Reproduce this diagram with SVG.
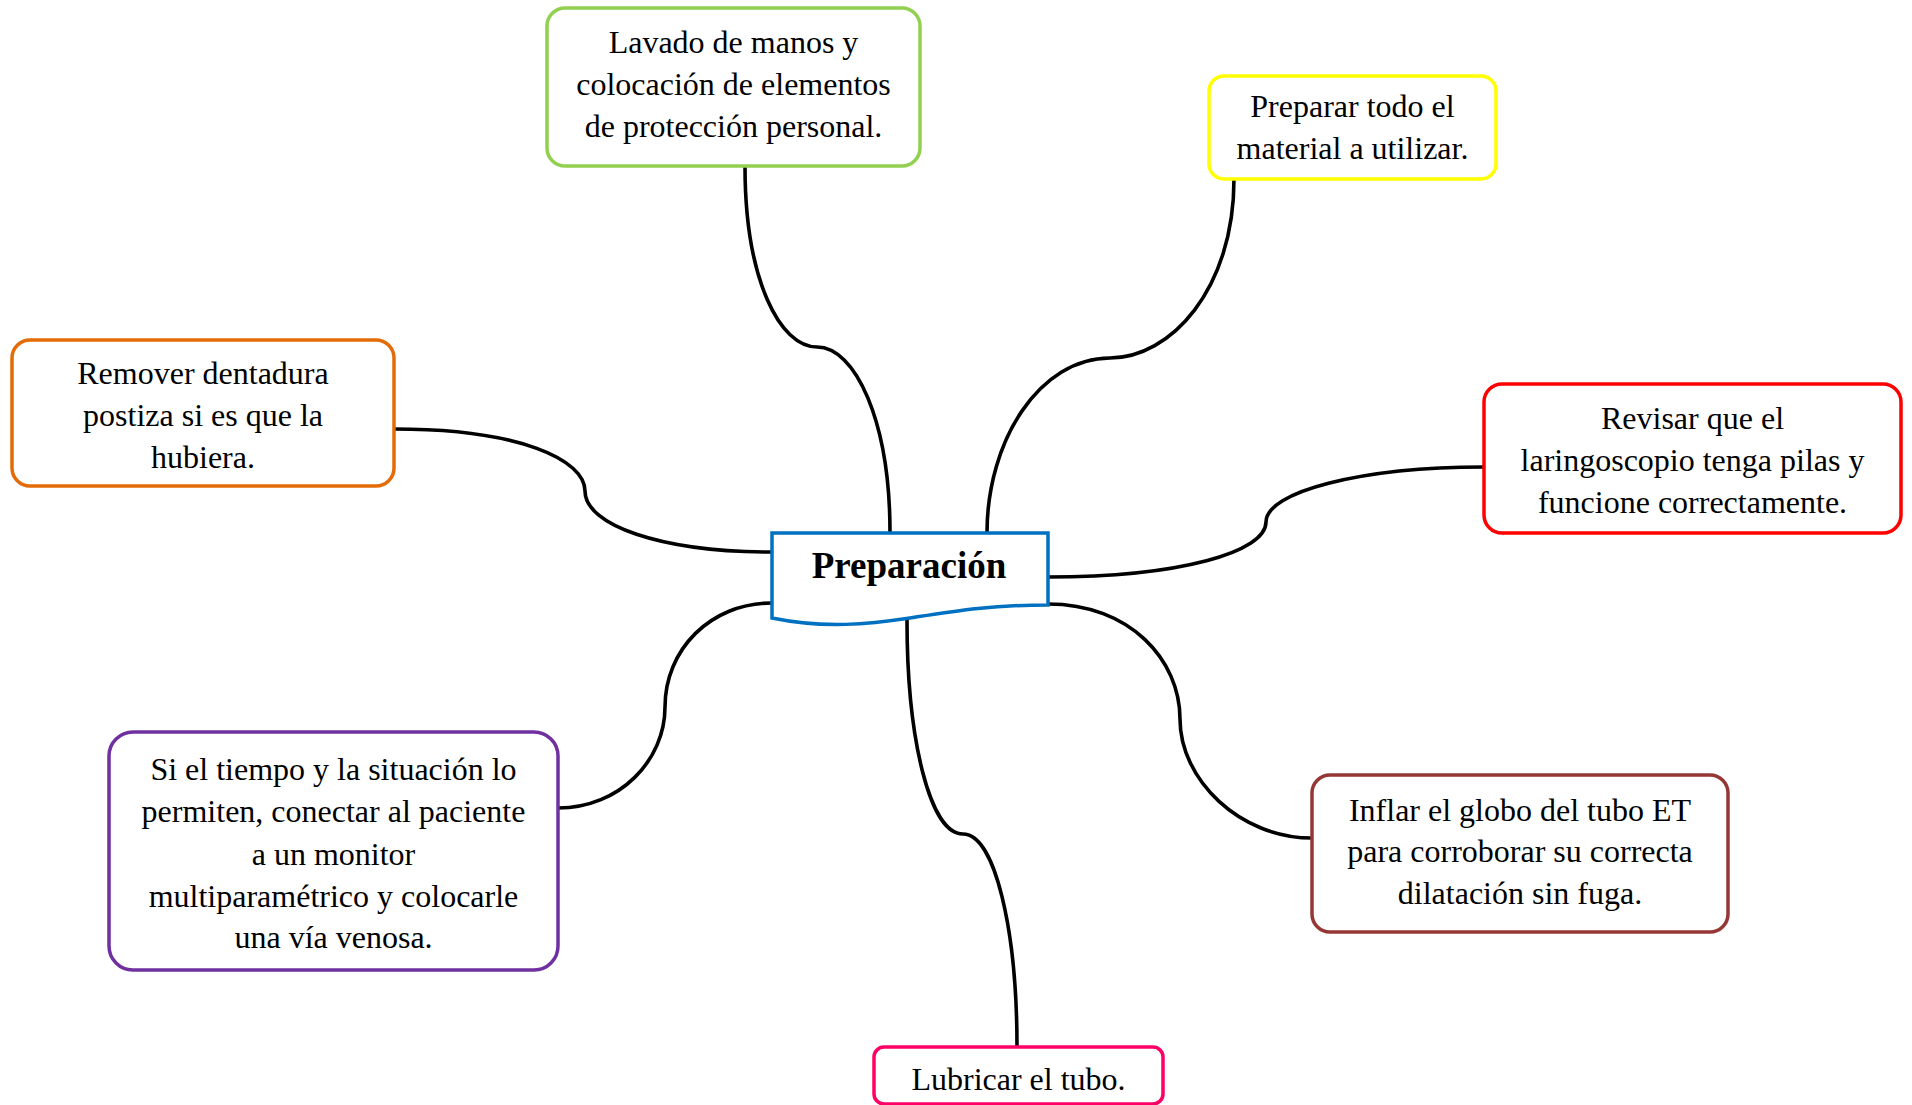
<svg xmlns="http://www.w3.org/2000/svg" width="1912" height="1105" viewBox="0 0 1912 1105">
<style>
.box{fill:#fff;stroke-width:3.5}
.t{font-family:"Liberation Serif","Times New Roman",serif;font-size:32px;fill:#000;text-anchor:middle}
.c{font-family:"Liberation Serif","Times New Roman",serif;font-size:37px;font-weight:bold;fill:#000;text-anchor:middle}
.con{fill:none;stroke:#000;stroke-width:3.6}
</style>
<rect width="1912" height="1105" fill="#fff"/>
<g id="connectors">
<path class="con" d="M745,166 C745,280 780,347 817,347 C855,347 890,420 890,533"/>
<path class="con" d="M1234,179 C1234,290 1170,358 1110,358 C1040,358 987,440 987,533"/>
<path class="con" d="M394,429 C520,429 585,460 585,491 C585,525 660,552 772,552"/>
<path class="con" d="M1048,577 C1180,577 1266,552 1266,522 C1266,492 1360,467 1484,467"/>
<path class="con" d="M558,808 C620,808 665,760 665,707 C665,650 710,603 772,603"/>
<path class="con" d="M1048,604 C1130,604 1180,660 1180,719 C1180,780 1240,838 1312,838"/>
<path class="con" d="M907,620 C907,740 930,834 963,834 C995,834 1017,930 1017,1047"/>
</g>
<g id="central">
<path d="M772,533 H1048 V605 C990,605 955,611 910,618 C870,624 825,629 772,618 Z" fill="#fff" stroke="#0070C0" stroke-width="3.5"/>
<text class="c" x="909" y="578">Preparación</text>
</g>
<g id="n-lavado">
<rect class="box" x="547" y="8" width="373" height="158" rx="18" stroke="#92D050"/>
<text class="t" x="733.5" y="53">Lavado de manos y</text>
<text class="t" x="733.5" y="95">colocación de elementos</text>
<text class="t" x="733.5" y="137">de protección personal.</text>
</g>
<g id="n-preparar">
<rect class="box" x="1209" y="76" width="287" height="103" rx="15" stroke="#FFFF00"/>
<text class="t" x="1352.5" y="117">Preparar todo el</text>
<text class="t" x="1352.5" y="159">material a utilizar.</text>
</g>
<g id="n-remover">
<rect class="box" x="12" y="340" width="382" height="146" rx="18" stroke="#E36C09"/>
<text class="t" x="203" y="384">Remover dentadura</text>
<text class="t" x="203" y="426">postiza si es que la</text>
<text class="t" x="203" y="468">hubiera.</text>
</g>
<g id="n-revisar">
<rect class="box" x="1484" y="384" width="417" height="149" rx="18" stroke="#FF0000"/>
<text class="t" x="1692.5" y="429">Revisar que el</text>
<text class="t" x="1692.5" y="471">laringoscopio tenga pilas y</text>
<text class="t" x="1692.5" y="513">funcione correctamente.</text>
</g>
<g id="n-monitor">
<rect class="box" x="109" y="732" width="449" height="238" rx="24" stroke="#7030A0"/>
<text class="t" x="333.5" y="780">Si el tiempo y la situación lo</text>
<text class="t" x="333.5" y="822">permiten, conectar al paciente</text>
<text class="t" x="333.5" y="865">a un monitor</text>
<text class="t" x="333.5" y="907">multiparamétrico y colocarle</text>
<text class="t" x="333.5" y="948">una vía venosa.</text>
</g>
<g id="n-inflar">
<rect class="box" x="1312" y="775" width="416" height="157" rx="18" stroke="#953735"/>
<text class="t" x="1520" y="821">Inflar el globo del tubo ET</text>
<text class="t" x="1520" y="862">para corroborar su correcta</text>
<text class="t" x="1520" y="904">dilatación sin fuga.</text>
</g>
<g id="n-lubricar">
<rect class="box" x="874" y="1047" width="289" height="57" rx="10" stroke="#FF0066"/>
<text class="t" x="1018.5" y="1090">Lubricar el tubo.</text>
</g>
</svg>
